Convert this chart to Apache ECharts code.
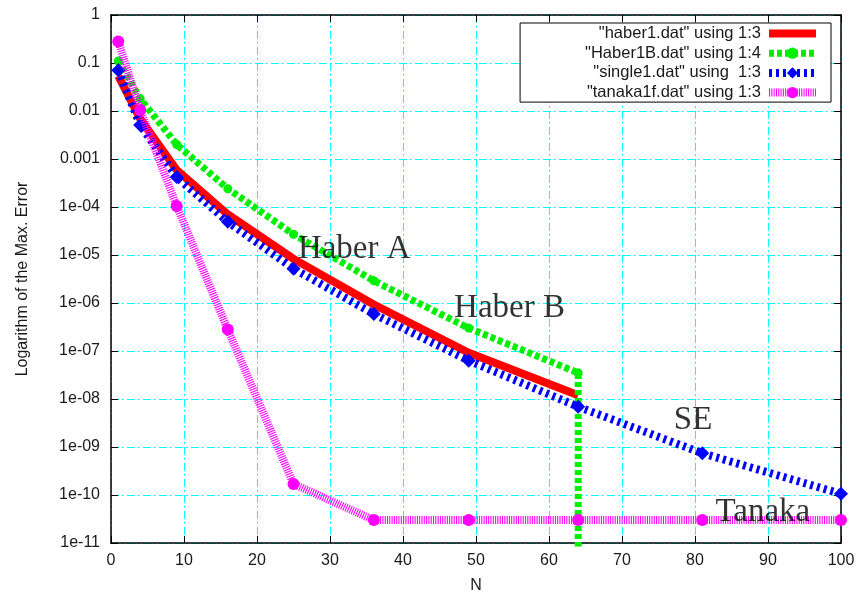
<!DOCTYPE html>
<html><head><meta charset="utf-8">
<script src="https://cdn.jsdelivr.net/npm/echarts@6/dist/echarts.min.js"></script>
<style>html,body{margin:0;padding:0;background:#fff}#c{width:860px;height:599px}</style>
</head><body><div id="c"></div>
<script>
// ---- data ----
const xMin = 0, xMax = 100, xStep = 10;
const yTickLabels = ['1e-11','1e-10','1e-09','1e-08','1e-07','1e-06','1e-05','1e-04','0.001','0.01','0.1','1'];
const seriesNames = ['"haber1.dat" using 1:3','"Haber1B.dat" using 1:4','"single1.dat" using  1:3','"tanaka1f.dat" using 1:3'];
const haberA_N   = [1, 4, 9, 16, 25, 36, 49, 64];
const haberA_err = [0.054, 0.0069, 5.9e-4, 7.0e-5, 8.3e-6, 9.3e-7, 9.2e-8, 1.2e-8];
const haberB_N   = [1, 4, 9, 16, 25, 36, 49, 64, 64];
const haberB_err = [0.11, 0.018, 0.002, 2.4e-4, 2.7e-5, 2.9e-6, 3.0e-7, 3.5e-8, 1e-13];
const se_N       = [1, 4, 9, 16, 25, 36, 49, 64, 81, 100];
const se_err     = [0.071, 0.0051, 4.2e-4, 4.9e-5, 5.2e-6, 5.9e-7, 6.3e-8, 6.9e-9, 7.4e-10, 1.06e-10];
const tanaka_N   = [1, 4, 9, 16, 25, 36, 49, 64, 81, 100];
const tanaka_err = [0.28, 0.0105, 1.05e-4, 2.8e-7, 1.7e-10, 3e-11, 3e-11, 3e-11, 3e-11, 3e-11];
const noteLabels = ['Haber A', 'Haber B', 'SE', 'Tanaka'];
const noteN      = [25.6, 47.0, 77.1, 82.8];
const noteErr    = [1.3e-5, 7.6e-7, 3.6e-9, 4.3e-11];

const pairs = (xs, ys) => xs.map((x, i) => [x, ys[i]]);
const txt = '#1a1a1a';
const font = 'Liberation Sans, Arial, sans-serif';
const gridColor = '#00ffff';
const gridType = [8, 3, 2, 3];

const colors = ['#ff0000', '#00ee00', '#0000ff', '#ff00ff'];
const widths = [8, 7, 8, 8];
const dashes = ['solid', [5, 3], [3, 4], [1.1, 1.2]];

function yLabel(v) {
  const e = Math.round(Math.log10(v));
  return yTickLabels[e + 11] || '';
}

const chart = echarts.init(document.getElementById('c'), null, {renderer: 'canvas'});
const axisLineStyle = {color: '#000', width: 1.5};
chart.setOption({
  animation: false,
  backgroundColor: '#fff',
  textStyle: {fontFamily: font},
  grid: {left: 111, right: 19, top: 15, bottom: 50, containLabel: false},
  legend: {
    orient: 'vertical', right: 29, top: 23, align: 'right',
    itemWidth: 47, itemHeight: 14, itemGap: 2.7,
    padding: [2, 11, 1, 65],
    borderColor: '#000', borderWidth: 1, backgroundColor: '#fff',
    textStyle: {fontSize: 16.5, color: txt, fontFamily: font, padding: [0, 3, 0, 0]},
    data: seriesNames.map((n, i) => ({
      name: n,
      lineStyle: {width: widths[i], color: colors[i], type: dashes[i]},
      itemStyle: i === 0 ? {opacity: 0} : {color: colors[i]}
    }))
  },
  xAxis: [{
    type: 'value', min: xMin, max: xMax, interval: xStep,
    name: 'N', nameLocation: 'middle', nameGap: 35,
    nameTextStyle: {fontSize: 16, color: txt},
    axisLine: {show: true, onZero: false, lineStyle: axisLineStyle},
    axisTick: {inside: true, length: 7, lineStyle: {color: '#000'}},
    axisLabel: {fontSize: 16, color: txt, margin: 10},
    splitLine: {show: true, lineStyle: {color: gridColor, type: gridType, width: 1}}
  }, {
    type: 'value', position: 'top', min: xMin, max: xMax, interval: xStep,
    axisLine: {show: true, onZero: false, lineStyle: axisLineStyle},
    axisTick: {inside: true, length: 7, lineStyle: {color: '#000'}},
    axisLabel: {show: false}, splitLine: {show: false}
  }],
  yAxis: [{
    type: 'log', logBase: 10, min: 1e-11, max: 1, interval: 1, splitNumber: 11,
    name: 'Logarithm of the Max. Error', nameLocation: 'middle', nameGap: 80,
    nameTextStyle: {fontSize: 16, color: txt},
    axisLine: {show: true, onZero: false, lineStyle: axisLineStyle},
    axisTick: {inside: true, length: 7, lineStyle: {color: '#000'}},
    axisLabel: {fontSize: 16, color: txt, margin: 11, formatter: yLabel},
    minorTick: {show: false}, minorSplitLine: {show: false},
    splitLine: {show: true, lineStyle: {color: gridColor, type: gridType, width: 1}}
  }, {
    type: 'log', logBase: 10, min: 1e-11, max: 1, interval: 1, splitNumber: 11, position: 'right',
    axisLine: {show: true, onZero: false, lineStyle: axisLineStyle},
    axisTick: {inside: true, length: 7, lineStyle: {color: '#000'}},
    axisLabel: {show: false}, splitLine: {show: false}
  }],
  series: [
    {
      name: seriesNames[0], type: 'line', z: 2, clip: true,
      data: pairs(haberA_N, haberA_err), symbol: 'none',
      lineStyle: {color: colors[0], width: widths[0], type: dashes[0]},
      itemStyle: {color: colors[0]}
    },
    {
      name: seriesNames[1], type: 'line', z: 3, clip: true,
      data: pairs(haberB_N, haberB_err).map((p, i) => i === haberB_N.length - 1 ? {value: p, symbol: 'none'} : p),
      symbol: 'circle', symbolSize: 9,
      lineStyle: {color: colors[1], width: widths[1], type: dashes[1]},
      itemStyle: {color: colors[1]}
    },
    {
      name: seriesNames[2], type: 'line', z: 4, clip: true,
      data: pairs(se_N, se_err), symbol: 'diamond', symbolSize: 14,
      lineStyle: {color: colors[2], width: widths[2], type: dashes[2]},
      itemStyle: {color: colors[2]}
    },
    {
      name: seriesNames[3], type: 'line', z: 5, clip: true,
      data: pairs(tanaka_N, tanaka_err), symbol: 'circle', symbolSize: 12,
      lineStyle: {color: colors[3], width: widths[3], type: dashes[3]},
      itemStyle: {color: colors[3]}
    },
    {
      type: 'scatter', z: 10, silent: true, symbolSize: 0,
      data: noteLabels.map((s, i) => ({name: s, value: [noteN[i], noteErr[i]]})),
      label: {
        show: true, position: 'right', distance: 0, formatter: p => p.name,
        fontFamily: 'Liberation Serif, Times New Roman, serif', fontSize: 33, color: '#000',
        align: 'left', verticalAlign: 'middle'
      }
    }
  ]
});
</script>
</body></html>
